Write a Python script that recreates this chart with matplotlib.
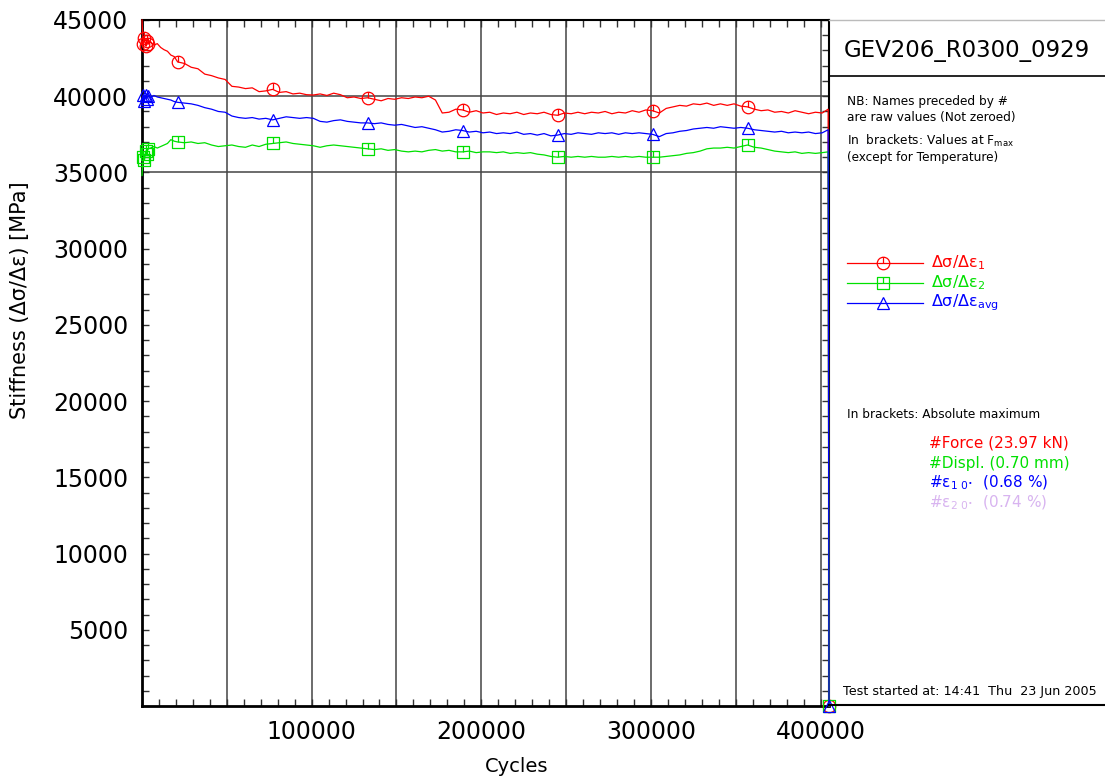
import numpy as np
import matplotlib
matplotlib.use("Agg")
import matplotlib.pyplot as plt
from matplotlib.path import Path
from matplotlib.lines import Line2D
from matplotlib.ticker import MultipleLocator, FuncFormatter

# data
cycles = [0, 700, 1400, 2100, 2800, 3500, 5000, 7000, 9000, 11000, 13000, 15000, 17000, 19000,
          21000, 25000, 29000, 33000, 37000, 41000, 45000, 49000, 53000, 57000, 61000, 65000,
          69000, 73000, 77000, 81000, 85000, 89000, 93000, 97000, 101000, 105000, 109000, 113000,
          117000, 121000, 125000, 129000, 133000, 137000, 141000, 145000, 149000, 153000, 157000,
          161000, 165000, 169000, 173000, 177000, 181000, 185000, 189000, 193000, 197000, 201000,
          205000, 209000, 213000, 217000, 221000, 225000, 229000, 233000, 237000, 241000, 245000,
          249000, 253000, 257000, 261000, 265000, 269000, 273000, 277000, 281000, 285000, 289000,
          293000, 297000, 301000, 305000, 309000, 313000, 317000, 321000, 325000, 329000, 333000,
          337000, 341000, 345000, 349000, 353000, 357000, 361000, 365000, 369000, 373000, 377000,
          381000, 385000, 389000, 393000, 397000, 401000, 404500, 405000]

stiff_1 = [45000, 43400, 43800, 43300, 43650, 43450, 43550, 43350, 43450, 43200, 43050, 42950, 42700, 42600,
           42250, 42150, 41900, 41800, 41450, 41350, 41200, 41100, 40650, 40600, 40500, 40550,
           40300, 40350, 40450, 40250, 40300, 40150, 40200, 40100, 40080, 40150, 40050, 40200,
           40100, 39900, 39950, 39850, 39900, 39800, 39700, 39850, 39800, 39900, 39850,
           39950, 39900, 40000, 39750, 38900, 38950, 39150, 39100, 38950, 39050, 38900,
           38950, 38800, 38900, 38850, 38950, 38800, 38900, 38850, 38950, 38800, 38750,
           38900, 38850, 38950, 38850, 38950, 38900, 39000, 38850, 38950, 38900, 39050,
           38950, 39100, 39050, 38900, 39200, 39300, 39400, 39350, 39500, 39450, 39550,
           39400, 39500, 39400, 39500, 39350, 39300, 39150, 39050, 39100, 38950, 39000,
           38900, 39050, 38950, 38850, 38950, 38900, 39150, 0]

stiff_2 = [34800, 36000, 35800, 36400, 36200, 36550, 36600, 36700, 36600, 36700, 36800, 36900, 37150, 37050,
           37000, 36950, 37000, 36900, 36950, 36800, 36700, 36750, 36800, 36700, 36650, 36800,
           36700, 36850, 36900, 36950, 37000, 36900, 36850, 36800, 36750, 36650, 36750, 36800,
           36750, 36700, 36650, 36600, 36550, 36500, 36550, 36450, 36500, 36400, 36350,
           36400, 36350, 36450, 36500, 36400, 36450, 36350, 36350, 36400, 36300, 36350,
           36350, 36300, 36350, 36250, 36300, 36250, 36300, 36200, 36150, 36050, 36000,
           36050, 36000, 36050, 36000, 36050, 36000, 36000, 36050, 36000, 36050, 36000,
           36050, 36000, 36000, 36000, 36050, 36100, 36150, 36250, 36300, 36400, 36550,
           36600, 36600, 36650, 36600, 36700, 36800, 36650, 36600, 36500, 36400, 36350,
           36300, 36350, 36250, 36300, 36250, 36300, 36350, 0]

stiff_avg = [39800, 40100, 39700, 40050, 39850, 40000, 39900, 40050, 39950, 39900, 39850, 39800, 39750, 39650,
             39600, 39550, 39500, 39400, 39250, 39150, 39000, 38950, 38700, 38600, 38550, 38600,
             38500, 38550, 38450, 38550, 38650, 38600, 38550, 38600, 38550, 38350, 38300, 38400,
             38450, 38350, 38300, 38250, 38250, 38200, 38250, 38150, 38100, 38150, 38050,
             37950, 38000, 37900, 37800, 37650, 37700, 37800, 37750, 37650, 37700, 37600,
             37650, 37550, 37600, 37550, 37650, 37500, 37550, 37450, 37550, 37400, 37450,
             37550, 37500, 37600, 37550, 37500, 37600, 37550, 37600, 37500, 37600, 37550,
             37600, 37550, 37500, 37350, 37550, 37600, 37700, 37750, 37850, 37900, 37950,
             37900, 38000, 37950, 37900, 37950, 37900, 37800, 37750, 37700, 37650, 37700,
             37600, 37650, 37600, 37650, 37550, 37600, 37800, 0]

marker_cycles = [700, 1400, 2100, 2800, 3500, 21000, 77000, 133000, 189000, 245000, 301000, 357000, 405000]

max_labels = ["#Force (23.97 kN)", "#Displ. (0.70 mm)",
              "#ε$_{1\\ 0^{\\bullet}}$  (0.68 %)", "#ε$_{2\\ 0^{\\bullet}}$  (0.74 %)"]
max_colors = ["#ff0000", "#00e000", "#0000ff", "#d8b4f0"]

plt.rcParams['mathtext.default'] = 'regular'
W, H = 1105, 778


def fx(px):
    return px / W


def fy(py):
    return 1 - py / H


tick = Path([(0, 0), (0, 1)], [Path.MOVETO, Path.LINETO])
circ_mark = Path.make_compound_path(Path.unit_circle(), tick)
sq = Path([(-1, -1), (1, -1), (1, 1), (-1, 1), (-1, -1)],
          [Path.MOVETO, Path.LINETO, Path.LINETO, Path.LINETO, Path.CLOSEPOLY])
sq_mark = Path.make_compound_path(sq, tick)

series = [
    (stiff_1, "#ff0000", circ_mark, 9, "Δσ/Δε$_1$"),
    (stiff_2, "#00e000", sq_mark, 8, "Δσ/Δε$_2$"),
    (stiff_avg, "#0000ff", "^", 9, "Δσ/Δε$_{avg}$"),
]

fig = plt.figure(figsize=(W / 100, H / 100), dpi=100)
ax = fig.add_axes([fx(142), fy(706), (829 - 142) / W, (706 - 20) / H])

mark_idx = list(np.where(np.isin(cycles, marker_cycles))[0])
for vals, c, m, ms, lab in series:
    ax.plot(cycles, vals, color=c, lw=0.9, marker=m, markevery=mark_idx, ms=ms,
            mfc="none", mec=c, mew=0.9, clip_on=False, zorder=3)

ax.set_xlim(0, 405000)
ax.set_ylim(0, 45000)

ax.xaxis.set_major_locator(MultipleLocator(50000))
ax.xaxis.set_minor_locator(MultipleLocator(10000))
ax.xaxis.set_major_formatter(FuncFormatter(lambda v, p: "%d" % v if v > 0 and v % 100000 == 0 else ""))
ax.set_yticks([5000, 10000, 15000, 20000, 25000, 30000, 35000, 40000, 45000])
ax.yaxis.set_minor_locator(MultipleLocator(1000))
ax.tick_params(which="both", direction="in", top=True, right=True, length=5, width=1, color="#333333")
ax.tick_params(axis="both", labelsize=17, pad=10)
ax.grid(axis="x", which="major", color="#444444", lw=1.1)
for yv in [35000, 40000]:
    ax.axhline(yv, color="#444444", lw=1.1, zorder=1)

for s in ["left", "bottom"]:
    ax.spines[s].set_linewidth(2)
ax.spines["top"].set_linewidth(1.5)
ax.spines["right"].set_linewidth(1.5)

fig.text(fx(517), fy(766), "Cycles", fontsize=14, ha="center", va="center")
fig.text(fx(20), fy(300), "Stiffness (Δσ/Δε) [MPa]", fontsize=15, rotation=90, ha="center", va="center")

# right-hand info panel
fig.add_artist(Line2D([fx(829), 1], [fy(20), fy(20)], color="#bbbbbb", lw=1))
fig.add_artist(Line2D([fx(829), 1], [fy(76), fy(76)], color="black", lw=1.2))
fig.add_artist(Line2D([fx(829), 1], [fy(705), fy(705)], color="black", lw=1.5))

fig.text(fx(967), fy(50), "GEV206_R0300_0929", fontsize=16.5, ha="center", va="center")
small = 8.7
fig.text(fx(847), fy(102), "NB: Names preceded by #", fontsize=small, va="center")
fig.text(fx(847), fy(117), "are raw values (Not zeroed)", fontsize=small, va="center")
fig.text(fx(847), fy(141), "In  brackets: Values at F$_{max}$", fontsize=small, va="center")
fig.text(fx(847), fy(158), "(except for Temperature)", fontsize=small, va="center")

for i, (vals, c, m, ms, lab) in enumerate(series):
    yy = fy([263, 283, 303][i])
    fig.add_artist(Line2D([fx(847), fx(923)], [yy, yy], color=c, lw=0.9))
    fig.add_artist(Line2D([fx(883)], [yy], marker=m, ms=ms, mfc="none", mec=c, mew=0.9, lw=0))
    fig.text(fx(931), yy, lab, fontsize=11.5, color=c, va="center")

fig.text(fx(847), fy(415), "In brackets: Absolute maximum", fontsize=small, va="center")
for i, (lab, c) in enumerate(zip(max_labels, max_colors)):
    fig.text(fx(929), fy(443 + 20 * i), lab, fontsize=11, color=c, va="center")

fig.text(fx(843), fy(692), "Test started at: 14:41  Thu  23 Jun 2005", fontsize=9.2, va="center")

fig.savefig("out.png", dpi=100)
